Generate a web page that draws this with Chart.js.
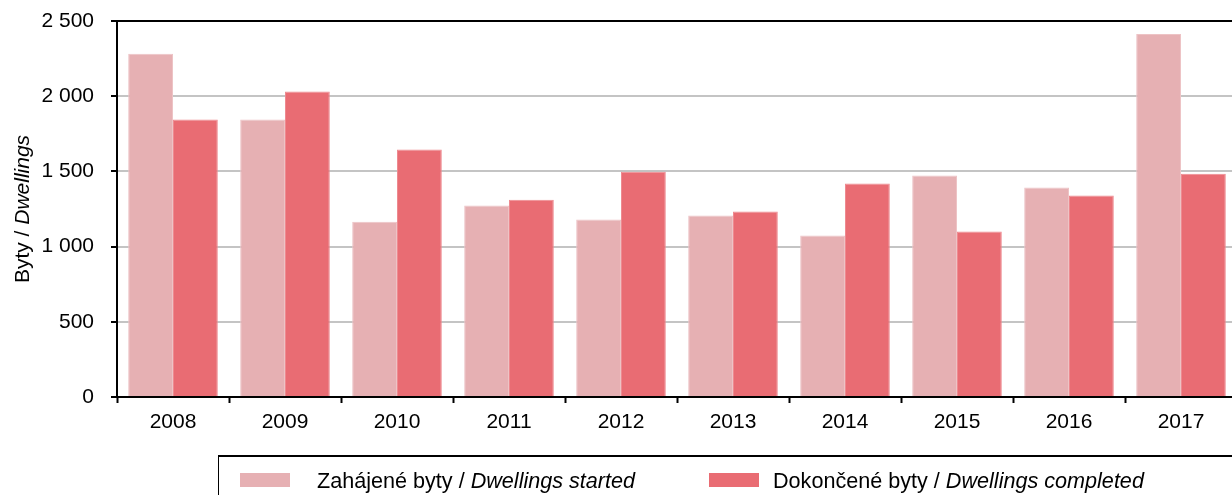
<!DOCTYPE html>
<html>
<head>
<meta charset="utf-8">
<script src="https://cdn.jsdelivr.net/npm/chart.js@4.4.1/dist/chart.umd.min.js"></script>
<style>
    html, body { margin: 0; padding: 0; background: #fff; overflow: hidden; }
    #wrap { position: relative; width: 1232px; height: 495px; overflow: hidden; }
    #chartBox { position: absolute; left: 0; top: 0; width: 1240px; height: 495px; }
    #legend {
        position: absolute; left: 218px; top: 455px; width: 1040px; height: 60px;
        border: 1px solid #000; border-width: 2px 1px 1px 1px; box-sizing: border-box;
        font-family: "Liberation Sans", Arial, sans-serif; font-size: 21.6px; color: #000;
    }
    .swatch { position: absolute; width: 50px; height: 14px; }
    .label { position: absolute; height: 24px; line-height: 24px; white-space: nowrap; }
</style>
</head>
<body>
<div id="wrap">
    <div id="chartBox"><canvas id="dwellingsChart" width="1240" height="495"></canvas></div>
    <div id="legend"></div>
</div>
<script>
// data
const years = ['2008', '2009', '2010', '2011', '2012', '2013', '2014', '2015', '2016', '2017'];
const started = [2282, 1845, 1165, 1273, 1180, 1207, 1073, 1473, 1393, 2413];
const completed = [1845, 2031, 1645, 1311, 1498, 1233, 1420, 1100, 1340, 1484];
const yTicks = [0, 500, 1000, 1500, 2000, 2500];

const seriesNames = [
    ['Zahájené byty / ', 'Dwellings started'],
    ['Dokončené byty / ', 'Dwellings completed']
];
const yTitle = ['Byty / ', 'Dwellings'];
const seriesColors = ['#e6b0b3', '#e96c73'];
const seriesBorders = ['#edc3c5', '#ee8a90'];

const FONT = '"Liberation Sans", Arial, sans-serif';

// 2500 -> "2 500"
function fmt(v) {
    return String(v).replace(/\B(?=(\d{3})+(?!\d))/g, ' ');
}

// black top frame line + y axis title (part of it italic)
const extras = {
    id: 'extras',
    afterDraw(chart) {
        const { ctx, chartArea } = chart;
        ctx.save();
        ctx.strokeStyle = '#000';
        ctx.lineWidth = 2;
        ctx.beginPath();
        ctx.moveTo(chartArea.left, chartArea.top);
        ctx.lineTo(chartArea.right + 5, chartArea.top);
        ctx.stroke();

        const normal = '21px ' + FONT;
        const italic = 'italic 21px ' + FONT;
        ctx.font = normal;
        const w1 = ctx.measureText(yTitle[0]).width;
        ctx.font = italic;
        const w2 = ctx.measureText(yTitle[1]).width;
        const cy = (chartArea.top + chartArea.bottom) / 2;
        ctx.translate(23, cy);
        ctx.rotate(-Math.PI / 2);
        ctx.fillStyle = '#000';
        ctx.textBaseline = 'middle';
        ctx.textAlign = 'left';
        ctx.font = normal;
        ctx.fillText(yTitle[0], -(w1 + w2) / 2, 0);
        ctx.font = italic;
        ctx.fillText(yTitle[1], -(w1 + w2) / 2 + w1, 0);
        ctx.restore();
    }
};

const ctx = document.getElementById('dwellingsChart');

new Chart(ctx, {
    type: 'bar',
    data: {
        labels: years,
        datasets: [
            {
                label: seriesNames[0].join(''),
                data: started,
                backgroundColor: seriesColors[0],
                borderColor: seriesBorders[0],
                borderWidth: 1
            },
            {
                label: seriesNames[1].join(''),
                data: completed,
                backgroundColor: seriesColors[1],
                borderColor: seriesBorders[1],
                borderWidth: 1
            }
        ]
    },
    options: {
        responsive: false,
        animation: false,
        events: [],
        layout: { padding: { top: 21, right: 3, left: 0, bottom: 0 } },
        datasets: {
            bar: { categoryPercentage: 0.8, barPercentage: 1.0 }
        },
        plugins: {
            legend: { display: false },
            tooltip: { enabled: false },
            title: { display: false }
        },
        scales: {
            x: {
                afterFit: s => { s.height = 98; },
                grid: {
                    offset: true,
                    drawOnChartArea: false,
                    drawTicks: true,
                    tickLength: 6,
                    tickColor: '#000',
                    tickWidth: 2
                },
                border: { color: '#000', width: 2 },
                ticks: {
                    color: '#000',
                    font: { family: FONT, size: 21 },
                    padding: 7,
                    maxRotation: 0
                }
            },
            y: {
                min: 0,
                max: 2500,
                afterFit: s => {
                    s.width = 117;
                    s.paddingTop = 0;
                    s.paddingBottom = 0;
                },
                afterBuildTicks: s => { s.ticks = yTicks.map(v => ({ value: v })); },
                grid: {
                    color: '#c4c4c4',
                    lineWidth: 2,
                    tickLength: 6,
                    tickColor: '#000',
                    tickWidth: 2
                },
                border: { color: '#000', width: 2 },
                ticks: {
                    color: '#000',
                    font: { family: FONT, size: 21 },
                    padding: 17,
                    callback: v => fmt(v)
                }
            }
        }
    },
    plugins: [extras]
});

// legend box below the canvas, italic English part
const legend = document.getElementById('legend');
const swatchLeft = [21, 490];
const labelLeft = [98, 554];
seriesNames.forEach((name, i) => {
    const sw = document.createElement('div');
    sw.className = 'swatch';
    sw.style.left = swatchLeft[i] + 'px';
    sw.style.top = '16px';
    sw.style.background = seriesColors[i];
    const lab = document.createElement('div');
    lab.className = 'label';
    lab.style.left = labelLeft[i] + 'px';
    lab.style.top = '12px';
    lab.innerHTML = name[0] + '<i>' + name[1] + '</i>';
    legend.appendChild(sw);
    legend.appendChild(lab);
});
</script>
</body>
</html>
